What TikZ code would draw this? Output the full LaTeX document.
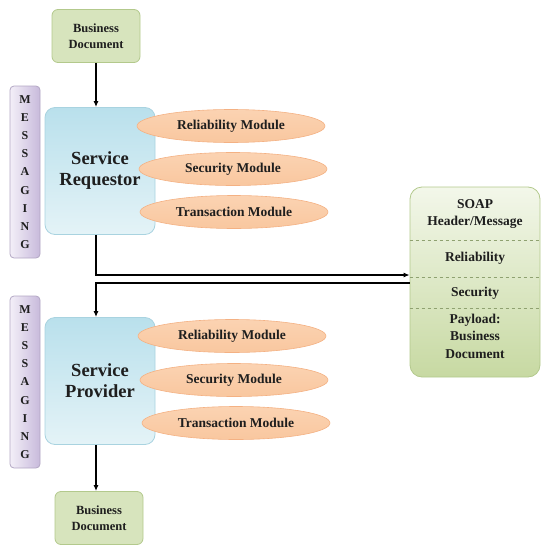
\documentclass[tikz,border=0pt]{standalone}
\usepackage{fontspec}
\setmainfont{Liberation Serif}
\usetikzlibrary{shapes.geometric,calc,arrows.meta}
\definecolor{docfill}{HTML}{D7E4BD}
\definecolor{docdraw}{HTML}{B3C98C}
\definecolor{reqtop}{HTML}{B9E0EC}
\definecolor{reqbot}{HTML}{E4F3F7}
\definecolor{reqdraw}{HTML}{A9D3E0}
\definecolor{elltop}{HTML}{FBD3B2}
\definecolor{ellmid}{HTML}{FDE8D7}
\definecolor{ellbot}{HTML}{F9C79F}
\definecolor{elldraw}{HTML}{F4B183}
\definecolor{msgl}{HTML}{F3EFF8}
\definecolor{msgr}{HTML}{C8BADB}
\definecolor{msgdraw}{HTML}{B3A7C4}
\definecolor{soaptop}{HTML}{F3F7EA}
\definecolor{soapbot}{HTML}{C7D9A2}
\definecolor{soapdraw}{HTML}{B3C98C}
\definecolor{txt}{HTML}{1E1E1E}
\tikzset{
  docbox/.style={draw=docdraw, fill=docfill, rounded corners=6pt, minimum width=88pt, minimum height=53pt, align=center, font=\bfseries\fontsize{12.5}{16}\selectfont, text=txt, line width=0.8pt},
  srvbox/.style={draw=reqdraw, top color=reqtop, bottom color=reqbot, rounded corners=10pt, minimum width=110pt, minimum height=127pt, align=center, font=\bfseries\fontsize{18.5}{21}\selectfont, text=txt, line width=0.8pt},
  modell/.style={ellipse, draw=elldraw, top color=elltop, middle color=ellmid, bottom color=ellbot, minimum width=188pt, minimum height=33pt, inner sep=0pt, font=\bfseries\fontsize{13.5}{15}\selectfont, text=txt, line width=0.6pt},
  msgbar/.style={draw=msgdraw, left color=msgl, right color=msgr, rounded corners=4pt, minimum width=30pt, minimum height=172pt, align=center, font=\bfseries\fontsize{12}{18.2}\selectfont, text=txt, line width=0.8pt},
  soapbox/.style={draw=soapdraw, top color=soaptop, bottom color=soapbot, rounded corners=12pt, minimum width=130pt, minimum height=190pt, line width=0.8pt},
  soaptxt/.style={font=\bfseries\fontsize{13.5}{17.5}\selectfont, text=txt, align=center},
  sep/.style={dashed, draw=soapdraw!80!black, line width=0.6pt},
  arr/.style={-{Latex[length=6pt,width=5pt]}, line width=1.3pt, black},
}
\begin{document}
\begin{tikzpicture}[x=1pt,y=-1pt]
\useasboundingbox (0,0) rectangle (543,549);
% top part
\node[docbox] (doc1) at (96,36) {Business\\Document};
\node[msgbar] (msg1) at (25,172) {M\\E\\S\\S\\A\\G\\I\\N\\G};
\node[srvbox] (req) at (100,171) {Service\\Requestor};
\node[modell] (r1) at (231,126) {Reliability Module};
\node[modell] (r2) at (233,169) {Security Module};
\node[modell] (r3) at (234,212) {Transaction Module};
% bottom part
\node[msgbar] (msg2) at (25,382) {M\\E\\S\\S\\A\\G\\I\\N\\G};
\node[srvbox] (prov) at (100,381) {Service\\Provider};
\node[modell] (p1) at (232,336) {Reliability Module};
\node[modell] (p2) at (234,380) {Security Module};
\node[modell] (p3) at (236,423) {Transaction Module};
\node[docbox] (doc2) at (99,518) {Business\\Document};
% SOAP message
\node[soapbox] (soap) at (475,282) {};
\node[soaptxt] (s1) at (475,214) {SOAP\\Header/Message};
\node[soaptxt] (s2) at (475,258) {Reliability};
\node[soaptxt] (s3) at (475,293) {Security};
\node[soaptxt] (s4) at (475,336) {Payload:\\Business\\Document};
\draw[sep] (soap.west |- 0,240) -- (soap.east |- 0,240);
\draw[sep] (soap.west |- 0,277) -- (soap.east |- 0,277);
\draw[sep] (soap.west |- 0,308) -- (soap.east |- 0,308);
% connectors
\draw[arr] (doc1.south) -- (doc1.south |- req.north);
\draw[arr] (doc1.south |- req.south) |- ($(soap.west)+(0,-7)$);
\draw[arr] ($(soap.west)+(0,1)$) -| (doc1.south |- prov.north);
\draw[arr] (doc1.south |- prov.south) -- (doc1.south |- doc2.north);
\end{tikzpicture}
\end{document}
